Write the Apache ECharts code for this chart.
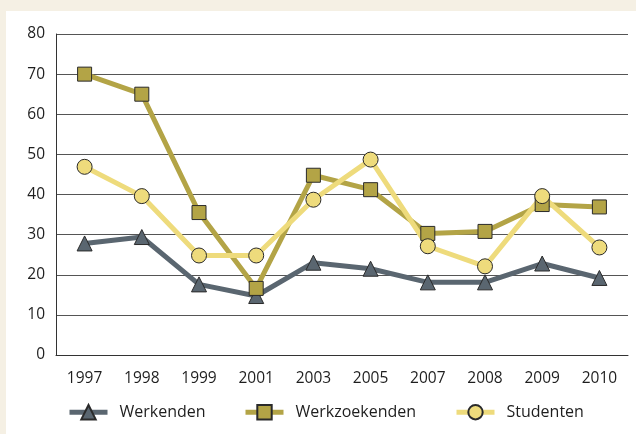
<!DOCTYPE html>
<html>
<head>
<meta charset="utf-8">
<script src="https://cdn.jsdelivr.net/npm/echarts@6/dist/echarts.min.js"></script>
<style>
  html, body { margin: 0; padding: 0; background: #f5f0e4; }
  #chart { width: 636px; height: 434px; }
</style>
</head>
<body>
<div id="chart"></div>
<script>
const years = ['1997', '1998', '1999', '2001', '2003', '2005', '2007', '2008', '2009', '2010']
const werkenden = [27.8, 29.4, 17.6, 14.7, 23.0, 21.5, 18.1, 18.1, 22.8, 19.2]
const werkzoekenden = [70.0, 65.0, 35.5, 16.6, 44.8, 41.2, 30.3, 30.8, 37.5, 36.9]
const studenten = [46.9, 39.6, 24.8, 24.8, 38.7, 48.7, 27.1, 22.1, 39.6, 26.8]
const seriesNames = ['Werkenden', 'Werkzoekenden', 'Studenten']

const font = '"Open Sans", "Noto Sans", sans-serif'
const myChart = echarts.init(document.getElementById('chart'))

const lineSeries = (name, data, color, symbol, size) => ({
  name,
  type: 'line',
  data,
  symbol,
  symbolSize: size,
  showAllSymbol: true,
  lineStyle: { color, width: 5 },
  itemStyle: { color, borderColor: '#2a2a2a', borderWidth: 1 },
  emphasis: { disabled: true }
})

// one legend per item so each sits where the original puts it
const legendAt = (name, left) => ({
  data: [name],
  left,
  top: 404,
  itemWidth: 38,
  itemHeight: 18,
  padding: 0,
  lineStyle: { width: 5 },
  textStyle: { fontFamily: font, fontSize: 16, color: '#1e1e1e', padding: [0, 0, 0, 7] }
})

const option = {
  backgroundColor: '#f5f0e4',
  animation: false,
  textStyle: { fontFamily: font },
  graphic: [
    {
      type: 'rect',
      z: -10,
      shape: { x: 6, y: 11, width: 640, height: 430 },
      style: { fill: '#ffffff' }
    }
  ],
  grid: { left: 56, right: 8, top: 34, bottom: 79 },
  legend: [
    legendAt(seriesNames[0], 67),
    legendAt(seriesNames[1], 243),
    legendAt(seriesNames[2], 454)
  ],
  xAxis: {
    type: 'category',
    data: years,
    boundaryGap: true,
    axisLine: { lineStyle: { color: '#333', width: 1 } },
    axisTick: { inside: true, length: 11, lineStyle: { color: '#444' } },
    axisLabel: { color: '#1e1e1e', fontSize: 15.5, margin: 16, fontFamily: font }
  },
  yAxis: {
    type: 'value',
    min: 0,
    max: 80,
    interval: 10,
    axisLine: { show: true, lineStyle: { color: '#333', width: 1 } },
    axisTick: { show: false },
    axisLabel: { color: '#1e1e1e', fontSize: 15.5, margin: 11, fontFamily: font },
    splitLine: { lineStyle: { color: '#555', width: 1 } }
  },
  series: [
    lineSeries(seriesNames[0], werkenden, '#5a6670', 'triangle', 15),
    lineSeries(seriesNames[1], werkzoekenden, '#b3a446', 'rect', 14),
    lineSeries(seriesNames[2], studenten, '#eedb7c', 'circle', 15)
  ]
}
myChart.setOption(option)
</script>
</body>
</html>
